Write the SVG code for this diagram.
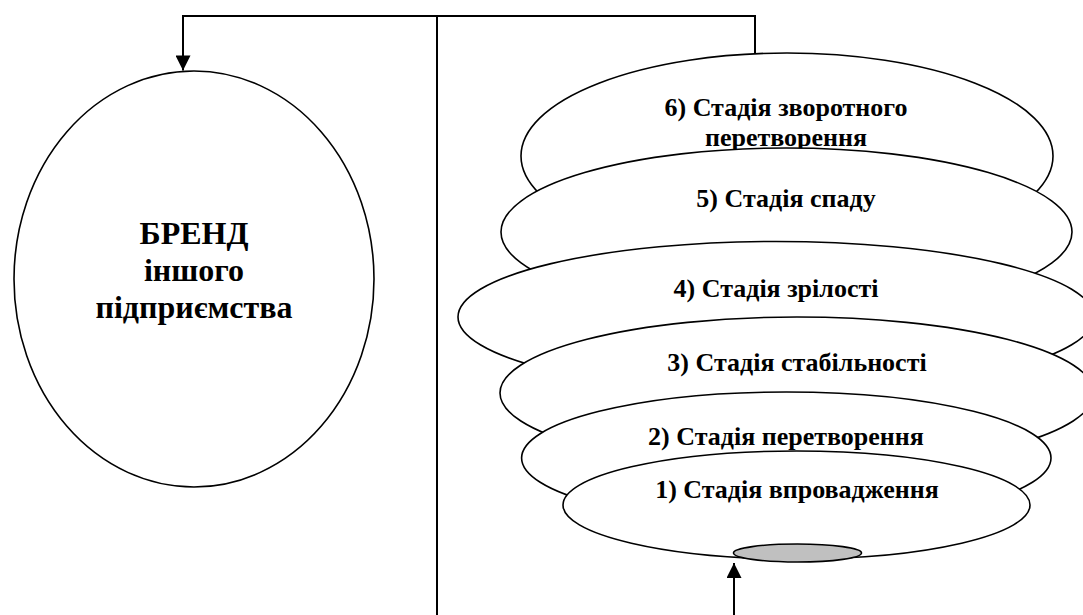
<svg xmlns="http://www.w3.org/2000/svg" width="1083" height="615" viewBox="0 0 1083 615">
  <style>
    .shape { fill: #ffffff; stroke: #000000; stroke-width: 1.6; }
    .gray { fill: #c0c0c0; stroke: #000000; stroke-width: 1.6; }
    .conn { fill: none; stroke: #000000; stroke-width: 2; }
    .lbl { font-family: "Liberation Serif", "Times New Roman", serif; font-weight: bold; font-size: 26px; text-anchor: middle; fill: #000000; }
    .big { font-family: "Liberation Serif", "Times New Roman", serif; font-weight: bold; font-size: 32px; text-anchor: middle; fill: #000000; }
  </style>
  <defs>
    <marker id="arrow" viewBox="0 0 16 16" refX="16" refY="8" markerWidth="16" markerHeight="15" markerUnits="userSpaceOnUse" orient="auto">
      <path d="M0,0 L16,8 L0,16 z" fill="#000000"/>
    </marker>
  </defs>
  <rect x="0" y="0" width="1083" height="615" fill="#ffffff"/>

  <g id="brand">
    <ellipse class="shape" cx="194" cy="279" rx="180" ry="208"/>
    <text class="big" x="194" y="244">БРЕНД</text>
    <text class="big" x="194" y="280.5">іншого</text>
    <text class="big" x="194" y="317.5">підприємства</text>
  </g>

  <g id="stage6">
    <ellipse class="shape" cx="787" cy="156" rx="266" ry="103"/>
    <text class="lbl" x="786" y="116">6) Стадія зворотного</text>
    <text class="lbl" x="786" y="146">перетворення</text>
  </g>
  <g id="stage5">
    <ellipse class="shape" cx="786.5" cy="232" rx="285.5" ry="84"/>
    <text class="lbl" x="786" y="206.5">5) Стадія спаду</text>
  </g>
  <g id="stage4">
    <ellipse class="shape" cx="776" cy="317" rx="318" ry="75.5"/>
    <text class="lbl" x="776" y="297">4) Стадія зрілості</text>
  </g>
  <g id="stage3">
    <ellipse class="shape" cx="797" cy="393" rx="297" ry="76"/>
    <text class="lbl" x="797" y="370.7">3) Стадія стабільності</text>
  </g>
  <g id="stage2">
    <ellipse class="shape" cx="786.3" cy="458" rx="264.7" ry="66"/>
    <text class="lbl" x="786" y="445">2) Стадія перетворення</text>
  </g>
  <g id="stage1">
    <ellipse class="shape" cx="796.5" cy="505" rx="233.5" ry="54"/>
    <text class="lbl" x="797" y="498">1) Стадія впровадження</text>
  </g>
  <g id="core">
    <ellipse class="gray" cx="797.5" cy="553" rx="64" ry="9"/>
  </g>

  <g id="connectors">
    <path class="conn" d="M755,53 L755,16 L183,16 L183,70.5" marker-end="url(#arrow)"/>
    <path class="conn" d="M437,16 L437,615"/>
    <path class="conn" d="M734,615 L734,563" marker-end="url(#arrow)"/>
  </g>
</svg>
